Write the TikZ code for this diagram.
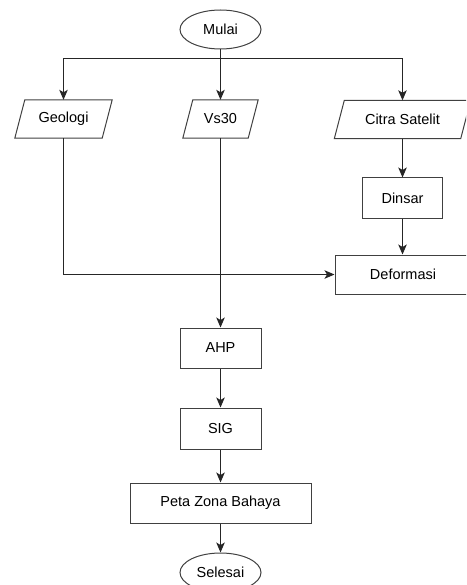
\documentclass[tikz,border=0pt]{standalone}
\usepackage{fontspec}
\setmainfont{Liberation Sans}
\usetikzlibrary{arrows.meta,shapes.geometric}
\begin{document}
\begin{tikzpicture}[x=1pt,y=-1pt,
  every node/.style={font=\fontsize{14.5}{16}\selectfont, text=black},
  line/.style={draw=black!85, line width=1pt},
  arr/.style={line, -{Stealth[length=10pt,width=8.5pt,inset=2.5pt]}},
  procbox/.style={draw=black!75, line width=1pt, rectangle, inner sep=0pt},
  termnode/.style={draw=black!75, line width=1pt, ellipse, inner sep=0pt, minimum width=81pt, minimum height=39pt},
  iobox/.style={rectangle, inner sep=0pt, minimum height=38pt}
]
\useasboundingbox (0,0) rectangle (466,585);
\clip (0,0) rectangle (466,585);

\node[termnode] (mulai) at (220.5,29.5) {Mulai};

\node[iobox, minimum width=87pt] (geo) at (63.5,119) {Geologi};
\node[iobox, minimum width=65pt] (vs) at (220.5,119) {Vs30};
\node[iobox, minimum width=126pt] (citra) at (402.5,119.5) {Citra Satelit};
\foreach \n in {geo,vs,citra}{
  \draw[draw=black!75, line width=1pt] ([xshift=5pt]\n.north west) -- ([xshift=5pt]\n.north east) -- ([xshift=-5pt]\n.south east) -- ([xshift=-5pt]\n.south west) -- cycle;
}

\node[procbox, minimum width=80pt, minimum height=40pt] (dinsar) at (402.5,198) {Dinsar};
\node[procbox, minimum width=136pt, minimum height=39pt] (def) at (403,274.5) {Deformasi};
\node[procbox, minimum width=81pt, minimum height=40pt] (ahp) at (220.5,348) {AHP};
\node[procbox, minimum width=81pt, minimum height=41pt] (sig) at (220.5,428.5) {SIG};
\node[procbox, minimum width=181pt, minimum height=40pt] (peta) at (220.5,503) {Peta Zona Bahaya};
\node[termnode] (selesai) at (220.5,572.5) {Selesai};

\coordinate (split) at (220.5,58.5);
\draw[arr] (mulai.south) -- (vs.north);
\draw[arr] (mulai.south) |- (split) -| (geo.north);
\draw[arr] (mulai.south) |- (split) -| (citra.north);
\draw[arr] (citra.south) -- (dinsar.north);
\draw[arr] (dinsar.south) -- (dinsar.south |- def.north);
\draw[arr] (geo.south) |- (def.west);
\draw[arr] (vs.south) -- (vs.south |- ahp.north);
\draw[arr] (ahp.south) -- (sig.north);
\draw[arr] (sig.south) -- (sig.south |- peta.north);
\draw[arr] (peta.south) -- (selesai.north);
\end{tikzpicture}
\end{document}
